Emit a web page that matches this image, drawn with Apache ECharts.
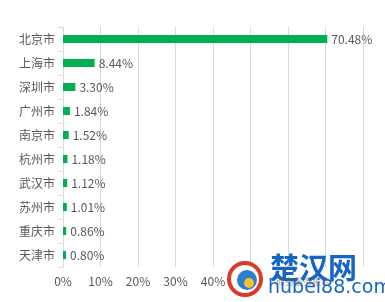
<!DOCTYPE html>
<html>
<head>
<meta charset="utf-8">
<script src="https://cdn.jsdelivr.net/npm/echarts@6/dist/echarts.min.js"></script>
<style>
html,body{margin:0;padding:0;background:#fff;}
#c{width:385px;height:302px;}
</style>
</head>
<body>
<div id="c"></div>
<script>
var cities = ['北京市','上海市','深圳市','广州市','南京市','杭州市','武汉市','苏州市','重庆市','天津市'];
var shares = [70.48, 8.44, 3.30, 1.84, 1.52, 1.18, 1.12, 1.01, 0.86, 0.80];
var xTicks = [0, 10, 20, 30, 40, 50, 60, 70, 80];

var font = '"Noto Sans CJK SC", "Noto Sans", sans-serif';
var chart = echarts.init(document.getElementById('c'));
chart.setOption({
  animation: false,
  backgroundColor: '#ffffff',
  grid: {left: 63, right: 22, top: 27, bottom: 35, containLabel: false},
  xAxis: {
    type: 'value',
    min: xTicks[0],
    max: xTicks[xTicks.length - 1],
    interval: 10,
    axisLine: {show: false},
    axisTick: {show: false},
    splitLine: {show: true, lineStyle: {color: '#d9d9d9', width: 1}},
    axisLabel: {
      color: '#595959', fontSize: 12, fontFamily: font, margin: 8,
      formatter: function (v) { return v + '%'; }
    }
  },
  yAxis: {
    type: 'category',
    data: cities,
    inverse: true,
    axisLine: {show: true, lineStyle: {color: '#d9d9d9'}},
    axisTick: {show: true, length: 5, lineStyle: {color: '#d9d9d9'}},
    axisLabel: {color: '#595959', fontSize: 12, fontFamily: font, margin: 8}
  },
  series: [{
    type: 'bar',
    data: shares,
    barWidth: 8,
    itemStyle: {color: '#00b050'},
    label: {
      show: true, position: 'right', distance: 4,
      color: '#595959', fontSize: 12, fontFamily: font,
      formatter: function (p) { return p.value.toFixed(2) + '%'; }
    }
  }],
  graphic: [
    {type: 'rect', shape: {x: 229, y: 268, width: 156, height: 34}, style: {fill: '#ffffff'}, z: 99},
    {type: 'circle', shape: {cx: 245, cy: 279, r: 16}, style: {fill: 'none', stroke: '#d93a2b', lineWidth: 4}, z: 100},
    {type: 'circle', shape: {cx: 247, cy: 280, r: 10}, style: {fill: '#2c7fd0'}, z: 101},
    {type: 'circle', shape: {cx: 249, cy: 283, r: 5}, style: {fill: '#f2c230'}, z: 102},
    {type: 'text', left: 270, top: 253, style: {text: '楚汉网', fill: '#1565c8', font: 'bold 29px "Noto Sans CJK SC"'}, z: 100},
    {type: 'text', left: 268, top: 279, style: {text: 'hubei88.com', fill: '#1565c8', font: '19px "DejaVu Sans"'}, z: 100},
    {type: 'text', left: 276, top: 277, style: {text: '商务服务报告', fill: 'rgba(90,90,90,0.6)', font: '9px "Noto Sans CJK SC"'}, z: 103}
  ]
});
</script>
</body>
</html>
